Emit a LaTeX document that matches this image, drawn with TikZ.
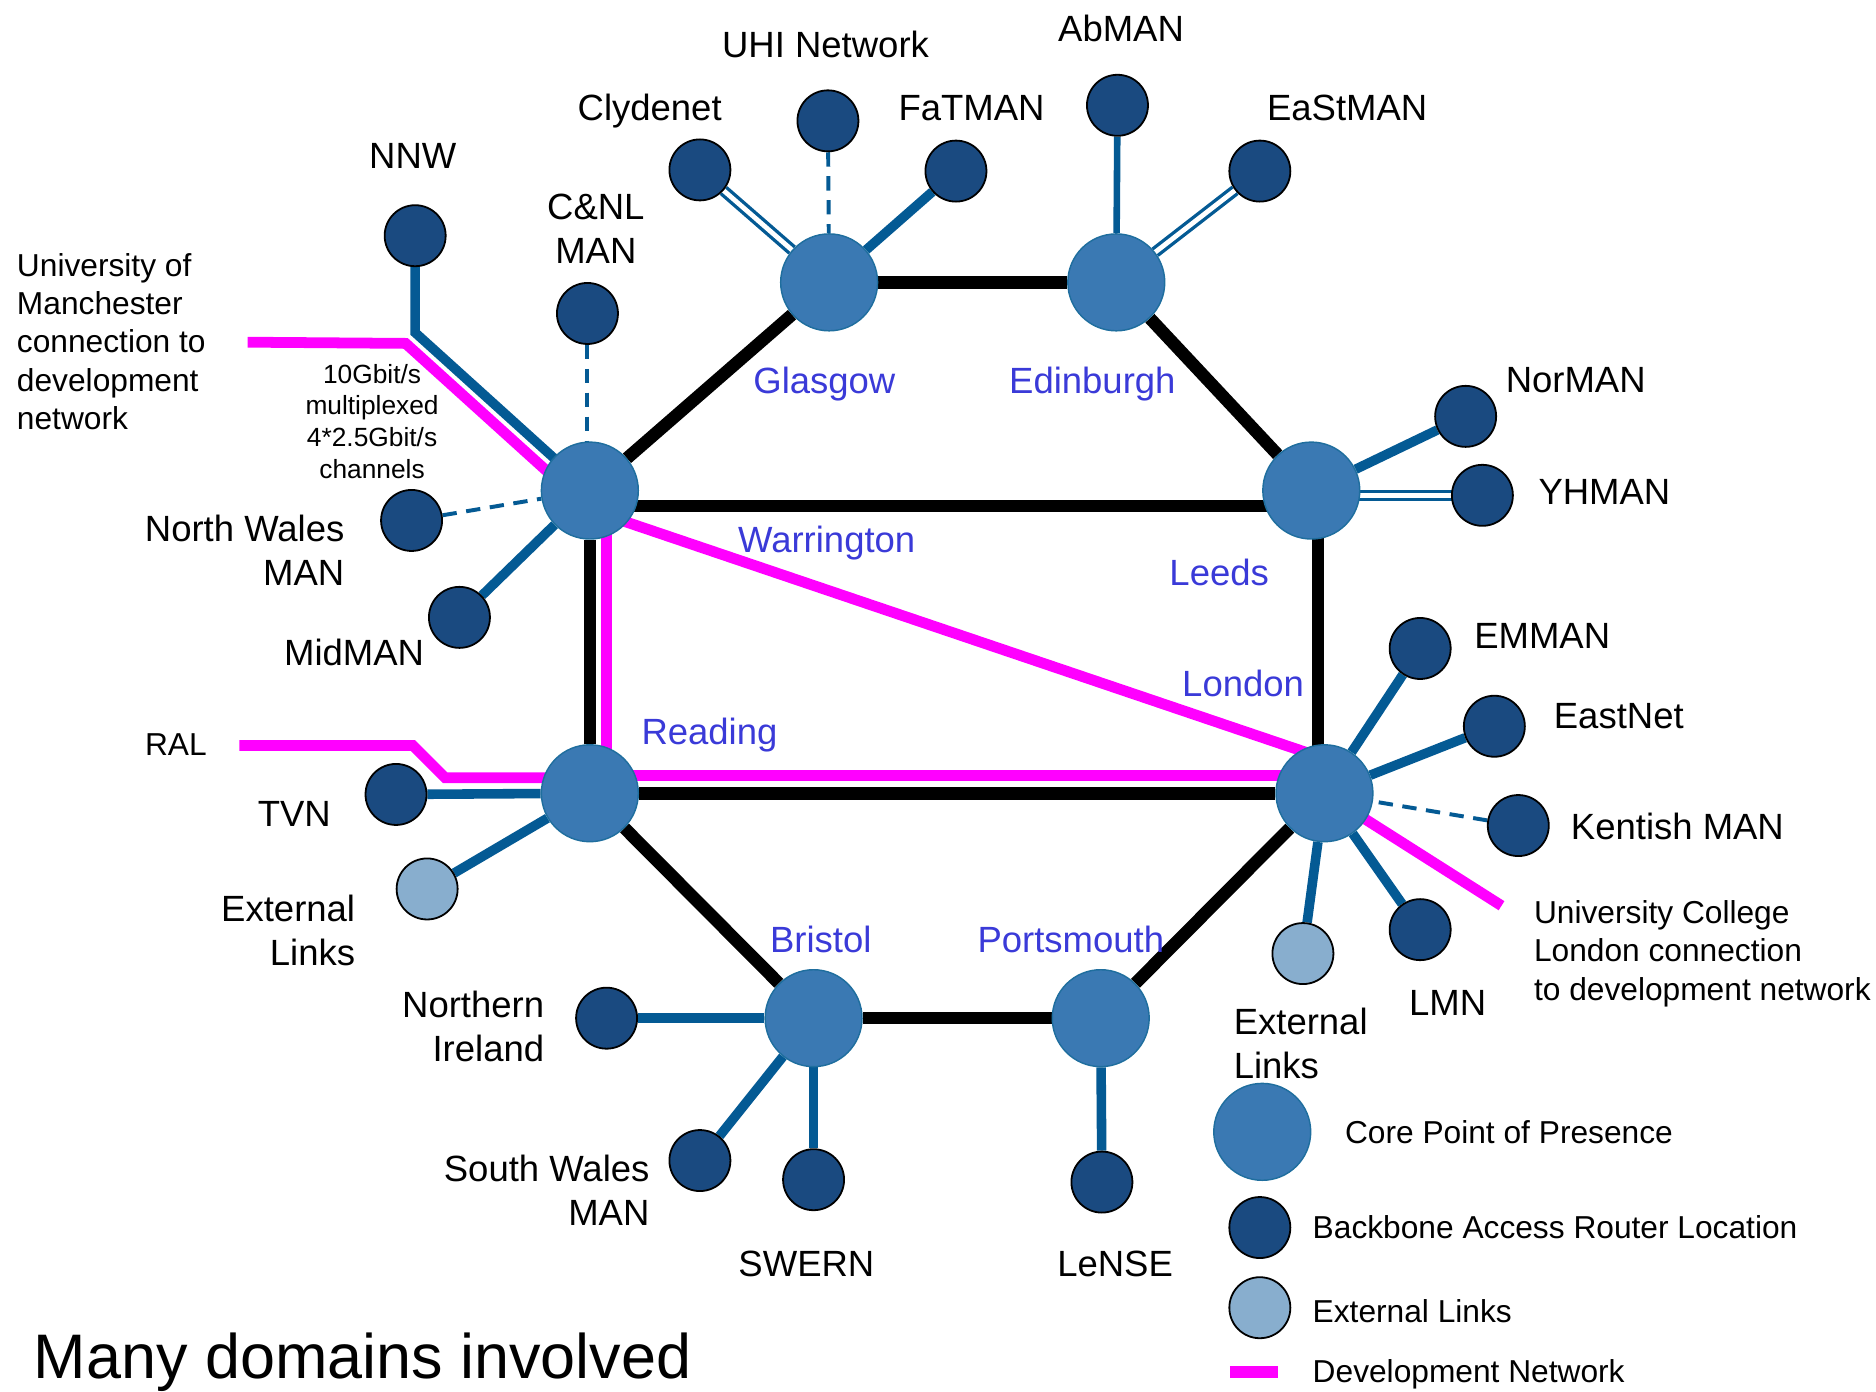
\documentclass[tikz,border=0pt]{standalone}
\usepackage{fontspec}
\setmainfont{Liberation Sans}
\usetikzlibrary{calc,backgrounds}
\definecolor{corefill}{HTML}{3A79B3}
\definecolor{coreedge}{HTML}{1F6E9E}
\definecolor{barfill}{HTML}{1A4A80}
\definecolor{extfill}{HTML}{88AECE}
\definecolor{spoke}{HTML}{045A94}
\definecolor{devnet}{HTML}{FF00FF}
\definecolor{city}{HTML}{3A3AD8}
\begin{document}
\begin{tikzpicture}[x=1pt,y=-1pt,
 core/.style={circle,fill=corefill,draw=coreedge,line width=1.2pt,minimum size=81pt,inner sep=0pt},
 bar/.style={circle,fill=barfill,draw=black,line width=1.5pt,minimum size=51pt,inner sep=0pt},
 ext/.style={circle,fill=extfill,draw=black,line width=1.5pt,minimum size=51pt,inner sep=0pt},
 lbl/.style={font=\fontsize{30.5}{37}\selectfont,inner sep=0pt},
 small/.style={font=\fontsize{26.5}{32}\selectfont,inner sep=0pt},
 tiny/.style={font=\fontsize{22}{26.7}\selectfont,inner sep=0pt},
 citylbl/.style={lbl,text=city},
 backbone/.style={line width=10.5pt,black},
 spk/.style={line width=8pt,spoke},
 spkthin/.style={line width=5.5pt,spoke},
 dsh/.style={line width=3.3pt,spoke,dash pattern=on 12pt off 8pt},
 dbl/.style={line width=2.8pt,draw=spoke,double=white,double distance=4pt},
 dev/.style={line width=9pt,devnet},
]
\useasboundingbox (0,0) rectangle (1568,1163);

% core points of presence
\node[core] (gla) at (693,236) {};
\node[core] (edi) at (933,236) {};
\node[core] (war) at (493,410) {};
\node[core] (lee) at (1096,410) {};
\node[core] (rea) at (493,663) {};
\node[core] (lon) at (1107,663) {};
\node[core] (bri) at (680,851) {};
\node[core] (por) at (920,851) {};

% backbone access routers
\node[bar] (nnw) at (347,197) {};
\node[bar] (cnl) at (491,262) {};
\node[bar] (cly) at (585,142) {};
\node[bar] (uhi) at (692,101) {};
\node[bar] (fat) at (799,143) {};
\node[bar] (abm) at (934,88) {};
\node[bar] (eas) at (1053,143) {};
\node[bar] (nor) at (1225,348) {};
\node[bar] (yhm) at (1239,414) {};
\node[bar] (nwm) at (344,435) {};
\node[bar] (mid) at (384,516) {};
\node[bar] (emm) at (1187,542) {};
\node[bar] (ean) at (1249,607) {};
\node[bar] (ken) at (1269,690) {};
\node[bar] (lmn) at (1187,777) {};
\node[bar] (tvn) at (331,664) {};
\node[bar] (nir) at (507,851) {};
\node[bar] (swm) at (585,970) {};
\node[bar] (swe) at (680,986) {};
\node[bar] (len) at (921,988) {};
\node[ext] (extl) at (357,743) {};
\node[ext] (extr) at (1089,797) {};

% legend symbols
\node[core] (lgcore) at (1055,946) {};
\node[bar] (lgbar) at (1053,1026) {};
\node[ext] (lgext) at (1053,1093) {};
\coordinate (lgdA) at (1028,1147);
\coordinate (lgdB) at (1068,1147);
\draw[line width=10pt,devnet] (lgdA) -- (lgdB);

% free ends of development links
\coordinate (uom) at (207,286);
\coordinate (uomk) at (339,287);
\coordinate (ral) at (200,623);
\coordinate (ralA) at (345,623);
\coordinate (ralB) at (372,650);
\coordinate (ucl) at (1255,757);
\coordinate (llx) at ($(lee.center)!0.5!(lon.center)$);

\begin{scope}[on background layer]
 % access links
 \draw[spk] (nnw.center) -- ($(nnw.center)+(0,81)$) -- (war.center);
 \draw[dsh] (cnl) -- (cnl.center|-war.north);
 \draw[dbl] (cly) -- (gla);
 \draw[dsh] (uhi) -- (gla);
 \draw[spk] (fat) -- (gla);
 \draw[spkthin] (abm) -- (edi);
 \draw[dbl] (eas) -- (edi);
 \draw[spk] (nor) -- (lee);
 \draw[dbl] (yhm.center) -- ($(lee.center)+(0,4)$);
 \draw[dsh] (nwm) -- (war);
 \draw[spk] (mid) -- (war);
 \draw[spk] (emm) -- (lon);
 \draw[spk] (ean) -- (lon);
 \draw[dsh] (ken) -- (lon);
 \draw[spk] (lmn) -- (lon);
 \draw[spk] (extr) -- (lon);
 \draw[spk] (tvn) -- (rea);
 \draw[spk] (extl) -- (rea);
 \draw[spk] (nir) -- (bri);
 \draw[spk] (swm) -- (bri);
 \draw[spk] (swe) -- (bri);
 \draw[spk] (len) -- (por);
 % development network
 \draw[dev] (uom) -- (uomk) -- ($(war.center)+(-8,9)$);
 \draw[dev] (ral) -- (ralA) -- (ralB) -- ($(rea.center)+(0,-13)$);
 \draw[dev] ($(war.center)+(0,16)$) -- ($(lon.center)+(0,-29)$);
 \draw[dev] ($(war.center)+(14,0)$) -- ($(rea.center)+(14,-15)$) -- ($(lon.center)+(0,-15)$);
 \draw[dev] (lon.center) -- (ucl);
 % backbone
 \draw[backbone] (gla) -- (edi);
 \draw[backbone] (gla) -- (war);
 \draw[backbone] (edi) -- (lee);
 \draw[backbone] ($(war.center)+(0,13)$) -- ($(lee.center)+(0,13)$);
 \draw[backbone] (war) -- (rea);
 \draw[backbone] (lee.center -| llx) -- (lon.center -| llx);
 \draw[backbone] (rea) -- (lon);
 \draw[backbone] (rea) -- (bri);
 \draw[backbone] (bri) -- (por);
 \draw[backbone] (por) -- (lon);
\end{scope}

% router labels
\node[lbl,anchor=base] (tnnw) at (345,141) {NNW};
\node[lbl,anchor=north,align=center] (tcnl) at (498,162) {C\&NL\\MAN};
\node[lbl,anchor=base] (tcly) at (543,101) {Clydenet};
\node[lbl,anchor=base] (tuhi) at (690,48) {UHI Network};
\node[lbl,anchor=base] (tfat) at (812,101) {FaTMAN};
\node[lbl,anchor=base] (tabm) at (937,35) {AbMAN};
\node[lbl,anchor=base] (teas) at (1126,101) {EaStMAN};
\node[lbl,anchor=base] (tnor) at (1317,328) {NorMAN};
\node[lbl,anchor=base] (tyhm) at (1341,422) {YHMAN};
\node[lbl,anchor=base] (temm) at (1289,542) {EMMAN};
\node[lbl,anchor=base] (tean) at (1353,609) {EastNet};
\node[lbl,anchor=base] (tken) at (1402,702) {Kentish MAN};
\node[lbl,anchor=base] (tlmn) at (1210,849) {LMN};
\node[lbl,anchor=north west,align=left] (textr) at (1031,842) {External\\Links};
\node[lbl,anchor=base] (tlen) at (932,1067) {LeNSE};
\node[lbl,anchor=base] (tswe) at (674,1067) {SWERN};
\node[lbl,anchor=north east,align=right] (tswm) at (543,965) {South Wales\\MAN};
\node[lbl,anchor=north east,align=right] (tnir) at (455,828) {Northern\\Ireland};
\node[lbl,anchor=north east,align=right] (textl) at (297,748) {External\\Links};
\node[lbl,anchor=base] (ttvn) at (246,691) {TVN};
\node[lbl,anchor=base] (tmid) at (296,556) {MidMAN};
\node[lbl,anchor=north east,align=right] (tnwm) at (288,430) {North Wales\\MAN};

% city labels
\node[citylbl,anchor=base] (tgla) at (689,329) {Glasgow};
\node[citylbl,anchor=base] (tedi) at (913,329) {Edinburgh};
\node[citylbl,anchor=base] (twar) at (691,462) {Warrington};
\node[citylbl,anchor=base] (tlee) at (1019,489) {Leeds};
\node[citylbl,anchor=base] (tlon) at (1039,582) {London};
\node[citylbl,anchor=base] (trea) at (593,622) {Reading};
\node[citylbl,anchor=base] (tbri) at (686,796) {Bristol};
\node[citylbl,anchor=base] (tpor) at (895,796) {Portsmouth};

% other texts
\node[small,anchor=north west,align=left] (tuom) at (14,211.5) {University of\\Manchester\\connection to\\development\\network};
\node[small,anchor=north west,align=left] (tucl) at (1282,752.5) {University College\\London connection\\to development network};
\node[tiny,anchor=north,align=center] (tmux) at (311,304) {10Gbit/s\\multiplexed\\4*2.5Gbit/s\\channels};
\node[small,anchor=base] (tral) at (147,631.5) {RAL};

% legend texts
\node[small,anchor=base west] (lg1) at (1124,955.5) {Core Point of Presence};
\node[small,anchor=base west] (lg2) at (1097,1035.5) {Backbone Access Router Location};
\node[small,anchor=base west] (lg3) at (1097,1105.5) {External Links};
\node[small,anchor=base west] (lg4) at (1097,1155.5) {Development Network};

\node[font=\fontsize{52.6}{60}\selectfont,anchor=base west,inner sep=0pt] (title) at (28,1152) {Many domains involved};
\end{tikzpicture}
\end{document}
